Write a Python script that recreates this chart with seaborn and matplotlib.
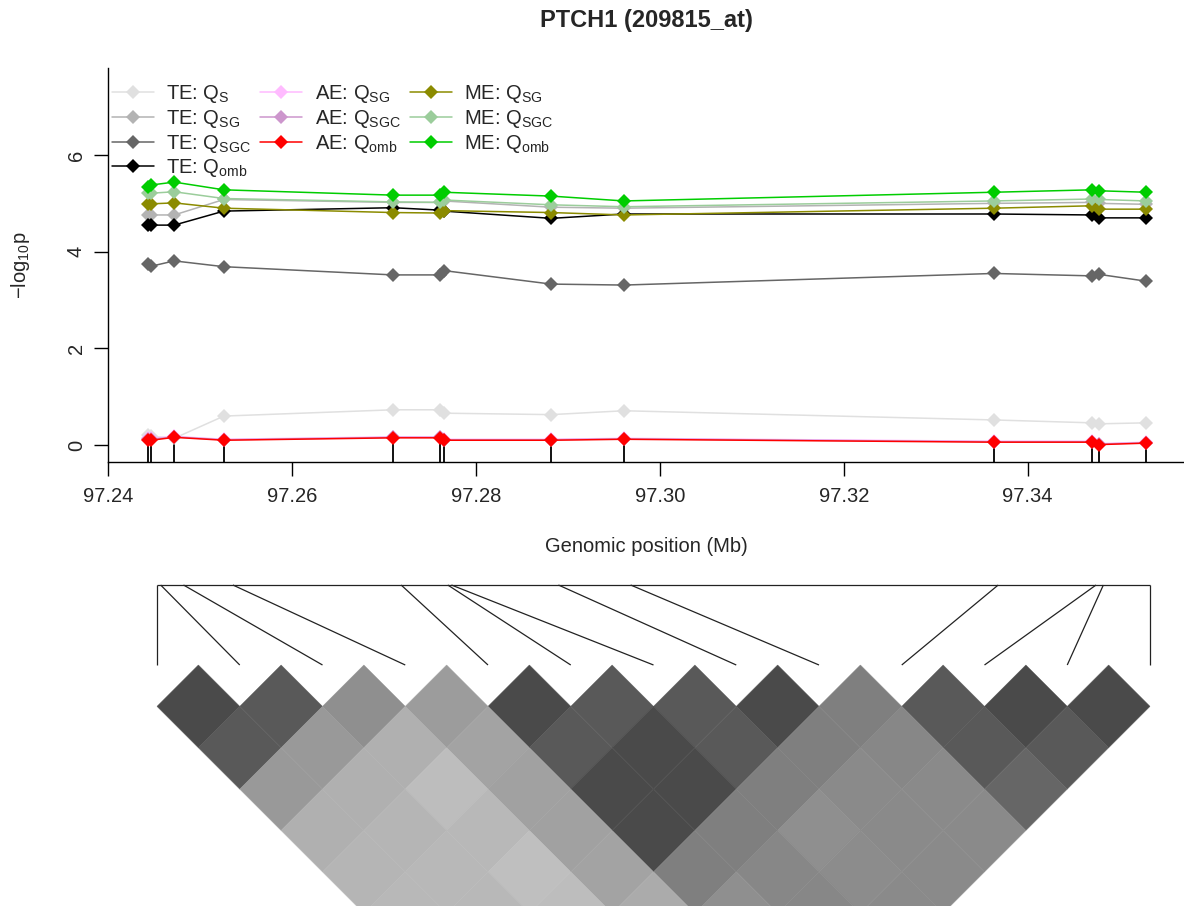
import numpy as np
import pandas as pd
import matplotlib
matplotlib.use("Agg")
import matplotlib.pyplot as plt
import seaborn as sns
from matplotlib.collections import PolyCollection, LineCollection
from matplotlib.colors import Normalize

# ---------------- data ----------------
snp_pos_mb = [97.2443, 97.2447, 97.2472, 97.2526, 97.2710, 97.2761, 97.2765,
              97.2882, 97.2961, 97.3363, 97.3470, 97.3478, 97.3529]

te_qs   = [0.20, 0.18, 0.14, 0.60, 0.73, 0.73, 0.66, 0.63, 0.71, 0.52, 0.46, 0.44, 0.46]
te_qsg  = [4.76, 4.76, 4.76, 5.08, 5.02, 5.02, 5.05, 4.92, 4.90, 5.00, 5.02, 5.00, 4.98]
te_qsgc = [3.74, 3.70, 3.81, 3.69, 3.52, 3.52, 3.61, 3.33, 3.31, 3.55, 3.50, 3.53, 3.39]
te_qomb = [4.55, 4.55, 4.55, 4.84, 4.91, 4.86, 4.84, 4.69, 4.78, 4.78, 4.76, 4.70, 4.70]
ae_qsg  = [0.15, 0.14, 0.18, 0.12, 0.17, 0.17, 0.12, 0.12, 0.14, 0.08, 0.08, 0.03, 0.06]
ae_qsgc = [0.13, 0.12, 0.17, 0.11, 0.16, 0.16, 0.11, 0.11, 0.13, 0.07, 0.07, 0.02, 0.05]
ae_qomb = [0.10, 0.10, 0.16, 0.10, 0.15, 0.15, 0.10, 0.10, 0.12, 0.06, 0.06, 0.01, 0.04]
me_qsg  = [4.99, 4.99, 5.01, 4.90, 4.81, 4.80, 4.85, 4.81, 4.76, 4.90, 4.95, 4.88, 4.88]
me_qsgc = [5.21, 5.21, 5.24, 5.10, 5.03, 5.02, 5.07, 4.97, 4.93, 5.05, 5.09, 5.08, 5.05]
me_qomb = [5.34, 5.38, 5.44, 5.28, 5.17, 5.17, 5.23, 5.15, 5.05, 5.23, 5.28, 5.26, 5.23]

series_labels = [r"TE: Q$_\mathregular{S}$", r"TE: Q$_\mathregular{SG}$",
                 r"TE: Q$_\mathregular{SGC}$", r"TE: Q$_\mathregular{omb}$",
                 r"AE: Q$_\mathregular{SG}$", r"AE: Q$_\mathregular{SGC}$",
                 r"AE: Q$_\mathregular{omb}$", r"ME: Q$_\mathregular{SG}$",
                 r"ME: Q$_\mathregular{SGC}$", r"ME: Q$_\mathregular{omb}$"]
series_colors = ["#e0e0e0", "#b3b3b3", "#666666", "#000000",
                 "#ffbbff", "#cd96cd", "#ff0000",
                 "#8b8b00", "#9bcd9b", "#00cd00"]

x_ticks = [97.24, 97.26, 97.28, 97.30, 97.32, 97.34]
y_ticks = [0, 2, 4, 6]

# LD r^2 between SNP i and SNP i+k (list ld_offset_k, indexed by i)
ld_offset_1 = [0.71, 0.65, 0.44, 0.39, 0.71, 0.65, 0.65, 0.71, 0.50, 0.65, 0.71, 0.71]
ld_offset_2 = [0.65, 0.40, 0.31, 0.36, 0.65, 0.71, 0.65, 0.50, 0.47, 0.65, 0.65]
ld_offset_3 = [0.40, 0.31, 0.26, 0.37, 0.71, 0.71, 0.50, 0.46, 0.46, 0.60]
ld_offset_4 = [0.31, 0.29, 0.28, 0.37, 0.71, 0.50, 0.44, 0.46, 0.46]
ld_offset_5 = [0.29, 0.28, 0.25, 0.36, 0.50, 0.47, 0.45, 0.46]
ld_offset_6 = [0.28, 0.28, 0.26, 0.33, 0.44, 0.47, 0.46]
ld_offset_7 = [0.28, 0.27, 0.30, 0.35, 0.45, 0.46]
ld_offset_8 = [0.27, 0.29, 0.31, 0.36, 0.45]
ld_offset_9 = [0.28, 0.30, 0.32, 0.38]
ld_offset_10 = [0.29, 0.31, 0.33]
ld_offset_11 = [0.30, 0.32]
ld_offset_12 = [0.31]

# ---------------- style ----------------
sns.set_theme(style="ticks")
plt.rcParams['font.family'] = ['Liberation Sans', 'DejaVu Sans']
plt.rcParams['mathtext.fontset'] = 'custom'
plt.rcParams['mathtext.rm'] = 'Liberation Sans'
plt.rcParams['mathtext.it'] = 'Liberation Sans:italic'
plt.rcParams['mathtext.bf'] = 'Liberation Sans:bold'

W, H = 1184, 906
fig = plt.figure(figsize=(W / 100, H / 100), dpi=100)
fig.patch.set_facecolor("white")

# ---------------- association panel ----------------
ax = fig.add_axes([108 / W, 1 - 462 / H, 1 - 108 / W, (462 - 68) / H])
ax.set_facecolor("white")
ax.set_xlim(97.2400, 97.3570)
ax.set_ylim(-0.35, 7.80)

ax.vlines(snp_pos_mb, ax.get_ylim()[0], ae_qomb, color="black", lw=1.3, zorder=1)

all_series = [te_qs, te_qsg, te_qsgc, te_qomb, ae_qsg, ae_qsgc, ae_qomb,
              me_qsg, me_qsgc, me_qomb]
df = pd.DataFrame({
    "pos": np.tile(snp_pos_mb, len(all_series)),
    "val": np.concatenate(all_series),
    "series": np.repeat(series_labels, len(snp_pos_mb)),
})
handles = []
for lab, col in zip(series_labels, series_colors):
    sub = df[df["series"] == lab]
    sns.lineplot(data=sub, x="pos", y="val", color=col, marker="D",
                 markersize=7.2, markeredgewidth=0, linewidth=1.1,
                 ax=ax, label=lab, zorder=2)
    handles.append(ax.get_lines()[-1])

ax.set_xlabel("")
ax.set_ylabel("")
for s in ["top", "right"]:
    ax.spines[s].set_visible(False)
for s in ["left", "bottom"]:
    ax.spines[s].set_color("black")
    ax.spines[s].set_linewidth(1.0)

ax.set_xticks(x_ticks)
ax.set_xticklabels([f"{t:.2f}" for t in x_ticks], fontsize=14.5)
ax.set_yticks(y_ticks)
ax.set_yticklabels([str(t) for t in y_ticks], fontsize=14.5, rotation=90, va="center")
ax.tick_params(axis="both", direction="out", length=10, width=1, color="black")
ax.tick_params(axis="x", pad=8)
ax.tick_params(axis="y", pad=6)

leg = ax.legend(handles=handles, labels=series_labels, ncol=3, loc="upper left",
                bbox_to_anchor=(112 / W, 1 - 83 / H), bbox_transform=fig.transFigure,
                frameon=False, fontsize=14.5, handlelength=2.1, handletextpad=0.6,
                columnspacing=0.45, labelspacing=0.14, borderpad=0, borderaxespad=0)

fig.text(646 / W, 1 - 547 / H, "Genomic position (Mb)", ha="center", va="center",
         fontsize=14.5)
fig.text(20 / W, 1 - 265 / H, r"$\mathregular{-log_{10}p}$", ha="center", va="center",
         rotation=90, fontsize=14.5)
fig.text(646 / W, 1 - 21 / H, "PTCH1 (209815_at)", ha="center", va="center",
         fontsize=17, fontweight="bold")

# ---------------- LD panel ----------------
n = len(snp_pos_mb)
unit = (1150 - 157) / (n - 1)            # pixels per SNP slot
ax2 = fig.add_axes([0, 0, 1, (H - 570) / H])
ax2.set_xlim(-157 / unit, (W - 157) / unit)
ax2.set_ylim(-(H - 665) / unit, (665 - 570) / unit)
ax2.axis("off")

ld_offsets = [ld_offset_1, ld_offset_2, ld_offset_3, ld_offset_4, ld_offset_5,
              ld_offset_6, ld_offset_7, ld_offset_8, ld_offset_9, ld_offset_10,
              ld_offset_11, ld_offset_12]
verts, vals = [], []
for k, row in enumerate(ld_offsets, start=1):
    for i, r2 in enumerate(row):
        j = i + k
        cx, cy = (i + j) / 2, -(j - i) / 2
        verts.append([(cx - 0.5, cy), (cx, cy + 0.5), (cx + 0.5, cy), (cx, cy - 0.5)])
        vals.append(r2)
pc = PolyCollection(verts, array=np.array(vals), cmap="gray_r",
                    norm=Normalize(0, 1), edgecolors="face", linewidths=0.3)
ax2.add_collection(pc)

bar_y = (665 - 585) / unit
p0, p1 = snp_pos_mb[0], snp_pos_mb[-1]
top_x = [(p - p0) / (p1 - p0) * (n - 1) for p in snp_pos_mb]
segs = [[(tx, bar_y), (k, 0)] for k, tx in enumerate(top_x)]
segs.append([(top_x[0], bar_y), (top_x[-1], bar_y)])
ax2.add_collection(LineCollection(segs, colors="#222222", linewidths=0.9))

fig.savefig("out.png", dpi=100, facecolor="white")
